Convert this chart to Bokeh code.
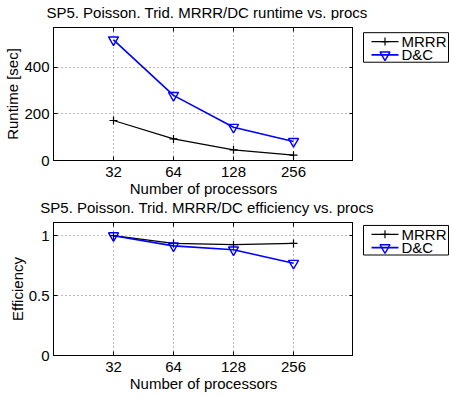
from bokeh.plotting import figure
from bokeh.layouts import column, row
from bokeh.models import (Range1d, FixedTicker, CustomJSTickFormatter, LinearAxis, LogAxis)
from bokeh.core.properties import value
from bokeh.embed import file_html
from bokeh.resources import INLINE

procs = [32, 64, 128, 256]
mrrr_runtime = [172, 93, 46, 23]
dc_runtime = [519, 280, 143, 82]
mrrr_eff = [1.0, 0.935, 0.925, 0.935]
dc_eff = [1.0, 0.915, 0.882, 0.77]

x_ticks = [32, 64, 128, 256]
runtime_ticks = [0, 200, 400]
eff_ticks = [0, 0.5, 1]
series_names = ["MRRR", "D&C"]

title1 = "SP5. Poisson. Trid. MRRR/DC runtime vs. procs"
title2 = "SP5. Poisson. Trid. MRRR/DC efficiency vs. procs"
xlabel = "Number of processors"

FONT = "Liberation Sans"
FS = "15px"
BLUE = "#0000ff"
W_FRAME_RIGHT = 353
W_TOTAL = 449


def mrrr_style(p, xs, ys):
    p.line(xs, ys, line_color="black", line_width=1.2)
    p.scatter(xs, ys, marker="cross", size=8, line_color="black", line_width=1.2)


def dc_style(p, xs, ys):
    p.line(xs, ys, line_color=BLUE, line_width=1.6)
    p.scatter(xs, ys, marker="inverted_triangle", size=10, line_color=BLUE,
              fill_color=None, line_width=1.4)


def blank_fig(width, height):
    q = figure(width=width, height=height, x_range=Range1d(0, width),
               y_range=Range1d(height, 0), output_backend="svg", toolbar_location=None,
               x_axis_location=None, y_axis_location=None,
               min_border_left=0, min_border_right=0, min_border_top=0, min_border_bottom=0)
    q.grid.visible = False
    q.outline_line_color = None
    q.background_fill_color = "white"
    q.border_fill_color = "white"
    return q


def title_fig(text, height, ymid):
    t = blank_fig(W_TOTAL, height)
    t.text(x=[206.5], y=[ymid], text=[text], text_font=value(FONT),
           text_font_size=value(FS), text_color="black",
           text_align="center", text_baseline="middle")
    return t


def make_fig(ylabel, mrrr, dc, yrange, yticks, height, btop, bbottom):
    p = figure(width=W_FRAME_RIGHT, height=height, x_axis_type="log",
               x_range=Range1d(16, 512), y_range=Range1d(*yrange),
               output_backend="svg", toolbar_location=None,
               min_border_left=53, min_border_right=0,
               min_border_top=btop, min_border_bottom=bbottom)
    p.outline_line_color = "black"
    p.outline_line_width = 1
    p.outline_line_alpha = 1
    p.background_fill_color = "white"
    p.border_fill_color = "white"

    fmt = CustomJSTickFormatter(code="return tick.toString();")
    blank = CustomJSTickFormatter(code="return '';")
    p.xaxis.ticker = FixedTicker(ticks=x_ticks)
    p.xaxis.formatter = fmt
    p.yaxis.ticker = FixedTicker(ticks=yticks)
    p.yaxis.formatter = fmt
    p.xaxis.axis_label = xlabel
    p.yaxis.axis_label = ylabel
    for ax in (p.xaxis, p.yaxis):
        ax.axis_label_text_font = FONT
        ax.axis_label_text_font_size = FS
        ax.axis_label_text_font_style = "normal"
        ax.axis_label_text_color = "black"
        ax.major_label_text_font = FONT
        ax.major_label_text_font_size = FS
        ax.major_label_text_color = "black"
        ax.major_tick_in = 4
        ax.major_tick_out = 0
        ax.minor_tick_line_color = None
        ax.axis_line_color = "black"
        ax.major_tick_line_color = "black"
        ax.axis_label_standoff = 0
    p.xaxis.major_label_standoff = 6
    p.yaxis.major_label_standoff = 4

    top = LogAxis(ticker=FixedTicker(ticks=x_ticks), formatter=blank,
                  major_tick_in=4, major_tick_out=0, minor_tick_line_color=None,
                  major_label_standoff=0, axis_line_color="black")
    right = LinearAxis(ticker=FixedTicker(ticks=yticks), formatter=blank,
                       major_tick_in=4, major_tick_out=0, minor_tick_line_color=None,
                       major_label_standoff=0, axis_line_color="black")
    p.add_layout(top, "above")
    p.add_layout(right, "right")

    p.grid.grid_line_color = "#777777"
    p.grid.grid_line_dash = "1 3"
    p.grid.grid_line_width = 1
    p.xgrid.ticker = FixedTicker(ticks=x_ticks)
    p.ygrid.ticker = FixedTicker(ticks=yticks)

    mrrr_style(p, procs, mrrr)
    dc_style(p, procs, dc)
    return p


def legend_fig(height, top):
    # legend drawn in its own pixel-space panel to the right of the axes
    q = blank_fig(W_TOTAL - W_FRAME_RIGHT, height)
    q.quad(left=[10], right=[95], top=[top], bottom=[top + 40],
           fill_color="white", line_color="black", line_width=1)
    rows = [top + 12, top + 30]
    sample_x = [18, 45]
    q.line(sample_x, [rows[0], rows[0]], line_color="black", line_width=1.2)
    q.scatter([31.5], [rows[0]], marker="cross", size=8, line_color="black", line_width=1.2)
    q.line(sample_x, [rows[1], rows[1]], line_color=BLUE, line_width=1.6)
    q.scatter([31.5], [rows[1]], marker="inverted_triangle", size=10, line_color=BLUE,
              fill_color=None, line_width=1.4)
    q.text(x=[48, 48], y=rows, text=series_names, text_font=value(FONT),
           text_font_size=value(FS), text_color="black",
           text_align="left", text_baseline="middle")
    return q


t1 = title_fig(title1, 20, 11.5)
p1 = make_fig("Runtime [sec]", mrrr_runtime, dc_runtime, (0, 572), runtime_ticks, 180, 7, 40)
q1 = legend_fig(180, 7)
t2 = title_fig(title2, 18, 7)
p2 = make_fig("Efficiency", mrrr_eff, dc_eff, (0, 1.11), eff_ticks, 180, 4, 43)
q2 = legend_fig(180, 4)

layout = column(t1, row(p1, q1, spacing=0), t2, row(p2, q2, spacing=0), spacing=0)
open("out.html", "w").write(file_html(layout, INLINE))
